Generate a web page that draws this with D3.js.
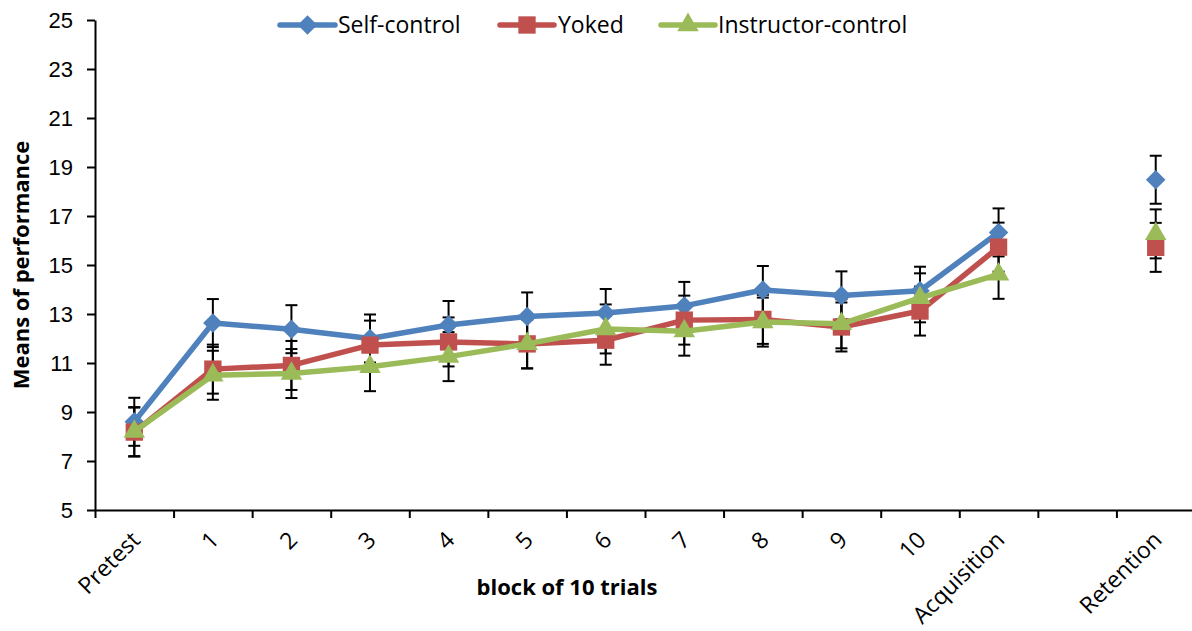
<!DOCTYPE html>
<html><head><meta charset="utf-8">
<script src="https://cdn.jsdelivr.net/npm/d3@7"></script>
<style>
body{margin:0;background:#fff;}
svg{display:block;font-family:"Open Sans","Noto Sans",sans-serif;}
</style></head>
<body><svg id="c" width="1192" height="631"></svg>
<script>
const categories = ["Pretest","1","2","3","4","5","6","7","8","9","10","Acquisition","","Retention"];
const selfControl = [8.6,12.63,12.38,12.0,12.55,12.9,13.04,13.33,13.98,13.76,13.95,16.33,null,18.48];
const yoked       = [8.18,10.75,10.9,11.73,11.86,11.78,11.93,12.75,12.78,12.47,13.12,15.73,null,15.72];
const instructor  = [8.2,10.5,10.57,10.85,11.26,11.78,12.39,12.3,12.67,12.6,13.66,14.62,null,16.27];
const selfErr     = [0.98,0.98,0.98,0.98,0.98,0.98,0.98,0.98,0.98,0.98,0.98,0.98,null,0.98];
const yokedErr    = [1,1,1,1,1,1,1,1,1,1,1,1,null,1];
const instrErr    = [1,1,1,1,1,1,1,1,1,1,1,1,null,1];
const yTicks = [5,7,9,11,13,15,17,19,21,23,25];
const seriesNames = ["Self-control","Yoked","Instructor-control"];

const svg = d3.select("#c");
const x = d3.scaleLinear().domain([0, categories.length]).range([95, 1195]);
const y = d3.scaleLinear().domain([5, 25]).range([510, 20]);
const cx = i => x(i + 0.5);

const series = [
  {name: seriesNames[0], vals: selfControl, err: selfErr, color: "#4F81BD", shape: "diamond"},
  {name: seriesNames[1], vals: yoked, err: yokedErr, color: "#C0504D", shape: "square"},
  {name: seriesNames[2], vals: instructor, err: instrErr, color: "#9BBB59", shape: "triangle"}
];

// axes
const yAxis = svg.append("g").attr("transform","translate(95,0)")
  .call(d3.axisLeft(y).tickValues(yTicks).tickSize(8).tickPadding(14).tickSizeOuter(0));
yAxis.selectAll("text").style("font-size","22px").attr("fill","#000");
yAxis.selectAll("line,path").attr("stroke","#000").attr("stroke-width",2);

const xAxis = svg.append("g").attr("transform","translate(0,510)")
  .call(d3.axisBottom(x).tickValues(d3.range(0, categories.length + 1)).tickSize(8).tickFormat("").tickSizeOuter(0));
xAxis.selectAll("line,path").attr("stroke","#000").attr("stroke-width",2);

svg.append("g").selectAll("text").data(categories).join("text")
  .attr("transform", (d,i) => `translate(${cx(i)-4},530) rotate(-45)`)
  .attr("text-anchor","end").attr("dy","0.7em")
  .style("font-size","23px").text(d => d);

// error bars
series.forEach(s => {
  const g = svg.append("g").attr("stroke","#000").attr("stroke-width",2);
  s.vals.forEach((v,i) => {
    if (v == null) return;
    const e = s.err[i];
    g.append("line").attr("x1",cx(i)).attr("x2",cx(i)).attr("y1",y(v-e)).attr("y2",y(v+e));
    g.append("line").attr("x1",cx(i)-6).attr("x2",cx(i)+6).attr("y1",y(v-e)).attr("y2",y(v-e));
    g.append("line").attr("x1",cx(i)-6).attr("x2",cx(i)+6).attr("y1",y(v+e)).attr("y2",y(v+e));
  });
});

function shapePath(shape){
  if (shape === "diamond") return d3.symbol().type(d3.symbolSquare).size(190)();
  if (shape === "square") return d3.symbol().type(d3.symbolSquare).size(300)();
  return d3.symbol().type(d3.symbolTriangle).size(200)();
}

const line = d3.line().defined(d => d.v != null).x(d => cx(d.i)).y(d => y(d.v));
series.forEach(s => {
  const pts = s.vals.map((v,i) => ({v, i}));
  svg.append("path").datum(pts.slice(0,12)).attr("d", line)
    .attr("fill","none").attr("stroke", s.color).attr("stroke-width",5.5).attr("stroke-linejoin","round");
  svg.append("g").selectAll("path").data(pts.filter(p => p.v != null)).join("path")
    .attr("d", shapePath(s.shape))
    .attr("transform", p => `translate(${cx(p.i)},${y(p.v)})${s.shape==="diamond"?" rotate(45)":""}`)
    .attr("fill", s.color);
});

// legend
const legendItems = [
  {x0: 280, x1: 335, tx: 338},
  {x0: 500, x1: 554, tx: 558},
  {x0: 661, x1: 715, tx: 718}
];
series.forEach((s,k) => {
  const L = legendItems[k];
  const g = svg.append("g");
  g.append("line").attr("x1",L.x0).attr("x2",L.x1).attr("y1",25).attr("y2",25)
    .attr("stroke",s.color).attr("stroke-width",5.5).attr("stroke-linecap","round");
  g.append("path").attr("d", shapePath(s.shape))
    .attr("transform",`translate(${(L.x0+L.x1)/2},25)${s.shape==="diamond"?" rotate(45)":""}`)
    .attr("fill",s.color);
  g.append("text").attr("x",L.tx).attr("y",25).attr("dy","0.35em")
    .style("font-size","23px").text(s.name);
});

// axis titles
svg.append("text").attr("transform","translate(29,265) rotate(-90)")
  .attr("text-anchor","middle").style("font-size","22px").style("font-weight","bold")
  .text("Means of performance");
svg.append("text").attr("x",567).attr("y",595).attr("text-anchor","middle")
  .style("font-size","22px").style("font-weight","bold").text("block of 10 trials");
</script></body></html>
